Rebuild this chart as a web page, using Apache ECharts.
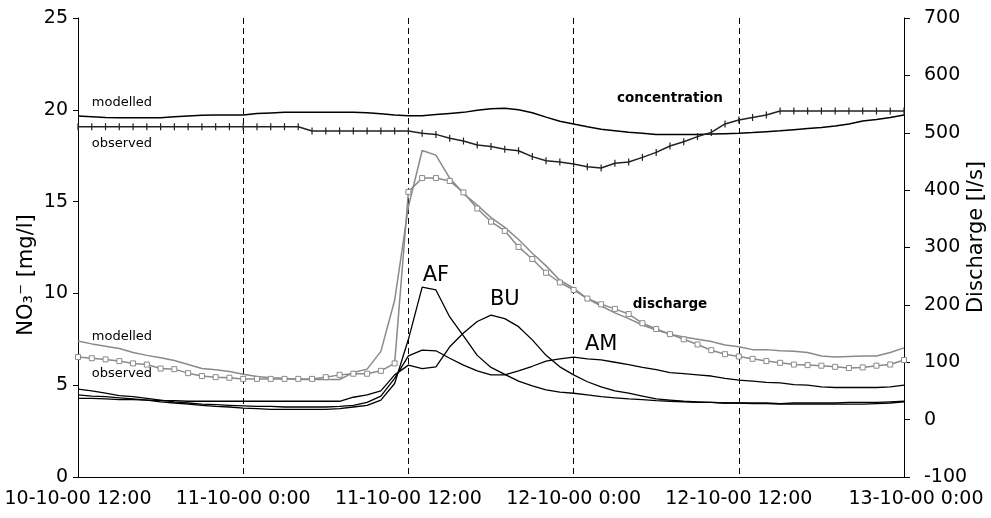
<!DOCTYPE html>
<html>
<head>
<meta charset="utf-8">
<script src="https://cdn.jsdelivr.net/npm/echarts@6/dist/echarts.min.js"></script>
<style>
  html, body { margin: 0; padding: 0; background: #fff; }
  #chart { width: 991px; height: 518px; }
</style>
</head>
<body>
<div id="chart"></div>
<script>
// hourly time steps, 10-10-00 12:00 .. 13-10-00 0:00
var times = [];
for (var i = 0; i <= 60; i++) {
  var day = 10 + Math.floor((12 + i) / 24);
  var hr = (12 + i) % 24;
  times.push(day + '-10-00 ' + hr + ':00');
}

// NO3 concentration [mg/l]
var concObserved = [
  19.08, 19.08, 19.08, 19.08, 19.08, 19.08, 19.08, 19.08, 19.08, 19.08,
  19.08, 19.08, 19.08, 19.08, 19.08, 19.08, 19.08, 18.85, 18.85, 18.85,
  18.85, 18.85, 18.85, 18.85, 18.85, 18.72, 18.66, 18.45, 18.30, 18.08,
  18.00, 17.85, 17.77, 17.45, 17.23, 17.16, 17.05, 16.90, 16.83, 17.09,
  17.16, 17.41, 17.68, 18.03, 18.26, 18.54, 18.77, 19.23, 19.44, 19.58,
  19.72, 19.93, 19.93, 19.93, 19.93, 19.93, 19.93, 19.93, 19.93, 19.93,
  19.93
];
var concModelled = [
  19.66, 19.62, 19.58, 19.57, 19.57, 19.57, 19.57, 19.62, 19.66, 19.70,
  19.72, 19.72, 19.72, 19.80, 19.83, 19.86, 19.86, 19.86, 19.86, 19.86,
  19.86, 19.84, 19.78, 19.72, 19.68, 19.68, 19.74, 19.80, 19.86, 19.98,
  20.06, 20.08, 20.00, 19.84, 19.60, 19.38, 19.23, 19.08, 18.94, 18.86,
  18.78, 18.72, 18.66, 18.66, 18.66, 18.66, 18.68, 18.70, 18.72, 18.76,
  18.81, 18.86, 18.92, 18.98, 19.04, 19.12, 19.23, 19.39, 19.47, 19.58,
  19.72
];

// discharge [l/s]
var qObserved = [
  109, 107, 105, 102, 98, 96, 89, 88, 81, 76,
  74, 73, 71, 71, 71, 71, 71, 71, 74, 78,
  80, 80, 85, 98, 397, 421, 421, 416, 396, 368,
  345, 329, 301, 280, 256, 239, 226, 211, 201, 193,
  184, 168, 158, 149, 140, 131, 121, 114, 110, 106,
  102, 99, 96, 95, 94, 92, 90, 91, 94, 96,
  104
];
var qModelled = [
  137, 132, 128, 124, 117, 112, 108, 103, 96, 89,
  87, 84, 79, 75, 73, 72, 70, 70, 70, 70,
  82, 88, 119, 208, 371, 469, 461, 421, 394, 374,
  352, 335, 314, 290, 268, 243, 229, 211, 198, 186,
  176, 165, 156, 149, 144, 140, 136, 130, 127, 122,
  122, 120, 119, 117, 111, 109, 110, 111, 111, 117,
  125
];
var qAF = [
  43, 41, 40, 38, 36, 34, 31, 29, 27, 25,
  23, 22, 20, 19, 18, 18, 18, 18, 18, 19,
  22, 25, 34, 63, 140, 231, 226, 179, 146, 112,
  91, 79, 67, 59, 52, 48, 46, 43, 40, 38,
  36, 35, 33, 32, 31, 30, 30, 29, 29, 29,
  29, 28, 29, 29, 29, 29, 30, 30, 30, 31,
  32
];
var qBU = [
  37, 37, 36, 35, 35, 34, 33, 33, 32, 32,
  32, 32, 32, 32, 32, 32, 32, 32, 32, 32,
  39, 43, 50, 78, 95, 89, 92, 127, 151, 171,
  182, 176, 162, 139, 112, 92, 78, 66, 57, 50,
  46, 41, 36, 34, 32, 31, 30, 29, 29, 28,
  28, 27, 27, 27, 27, 27, 27, 27, 28, 29,
  31
];
var qAM = [
  53, 50, 46, 42, 40, 37, 34, 31, 29, 27,
  26, 25, 24, 23, 23, 22, 22, 22, 22, 23,
  25, 30, 41, 72, 111, 121, 120, 107, 95, 85,
  78, 78, 85, 93, 102, 106, 109, 106, 104, 100,
  96, 91, 87, 82, 80, 78, 76, 72, 69, 67,
  65, 64, 61, 60, 57, 56, 56, 56, 56, 57,
  60
];

// annotations: [text, hour index, mg/l, align, size, bold]
var notes = [
  ['modelled', 1.16, 20.37, 'left', 13, false],
  ['observed', 1.23, 18.14, 'left', 13, false],
  ['concentration', 42.6, 20.64, 'center', 13.5, true],
  ['discharge', 43.0, 9.37, 'center', 13.5, true],
  ['modelled', 1.31, 7.63, 'left', 13, false],
  ['observed', 0.51, 5.61, 'left', 13, false],
  ['AF', 26.0, 10.95, 'center', 21, false],
  ['BU', 30.72, 9.64, 'center', 21, false],
  ['AM', 38.2, 7.19, 'center', 21, false]
];

var FONT = 'DejaVu Sans';
var chart = echarts.init(document.getElementById('chart'), null, { renderer: 'canvas' });

function line(name, data, axis, color, width) {
  return {
    name: name,
    type: 'line',
    yAxisIndex: axis,
    data: data,
    showSymbol: false,
    symbol: 'none',
    lineStyle: { color: color, width: width },
    silent: true
  };
}

var concObs = line('conc observed', concObserved, 0, '#222', 1.5);
concObs.symbol = 'rect';
concObs.showSymbol = true;
concObs.symbolSize = [1.2, 7];
concObs.itemStyle = { color: '#222' };

var qObs = line('discharge observed', qObserved, 1, '#8a8a8a', 1.5);
qObs.symbol = 'rect';
qObs.showSymbol = true;
qObs.symbolSize = 5;
qObs.itemStyle = { color: '#fff', borderColor: '#8a8a8a', borderWidth: 1 };

var option = {
  animation: false,
  grid: { left: 78, right: 87, top: 18, bottom: 41 },
  xAxis: {
    type: 'category',
    data: times,
    boundaryGap: false,
    axisLine: { lineStyle: { color: '#000', width: 1 } },
    axisTick: { show: false },
    axisLabel: {
      interval: 11,
      color: '#000',
      fontFamily: FONT,
      fontSize: 19,
      margin: 13,
      formatter: function (v, idx) {
        return idx === times.length - 1 ? '{last|' + v + '}' : v;
      },
      rich: {
        last: { fontFamily: FONT, fontSize: 19, color: '#000', padding: [0, 0, 0, 24] }
      }
    },
    splitLine: {
      show: true,
      interval: 11,
      showMinLine: false,
      showMaxLine: false,
      lineStyle: { color: '#000', width: 1, type: [6, 4] }
    }
  },
  yAxis: [
    {
      type: 'value',
      min: 0, max: 25, interval: 5,
      axisLine: { show: true, lineStyle: { color: '#000' } },
      axisTick: { show: true, length: 5, lineStyle: { color: '#000' } },
      axisLabel: { color: '#000', fontFamily: FONT, fontSize: 19, margin: 10 },
      splitLine: { show: false }
    },
    {
      type: 'value',
      position: 'right',
      min: -100, max: 700, interval: 100,
      axisLine: { show: true, lineStyle: { color: '#000' } },
      axisTick: { show: true, length: 6, lineStyle: { color: '#000' } },
      axisLabel: { color: '#000', fontFamily: FONT, fontSize: 19, margin: 20 },
      splitLine: { show: false }
    }
  ],
  series: [
    line('AF', qAF, 1, '#000', 1.3),
    line('BU', qBU, 1, '#000', 1.3),
    line('AM', qAM, 1, '#000', 1.3),
    line('discharge modelled', qModelled, 1, '#8a8a8a', 1.5),
    qObs,
    line('conc modelled', concModelled, 0, '#000', 1.5),
    concObs
  ]
};

chart.setOption(option);

// text labels anchored to data coordinates, axis titles
var elements = notes.map(function (n) {
  var p = chart.convertToPixel({ xAxisIndex: 0, yAxisIndex: 0 }, [n[1], n[2]]);
  return {
    type: 'text',
    x: p[0], y: p[1],
    style: {
      text: n[0],
      align: n[3],
      verticalAlign: 'middle',
      fontFamily: FONT,
      fontSize: n[4],
      fontWeight: n[5] ? 'bold' : 'normal',
      fill: '#000'
    }
  };
});
elements.push({
  type: 'text', x: 27, y: 275, rotation: Math.PI / 2,
  style: { text: 'NO₃⁻ [mg/l]', align: 'center', verticalAlign: 'middle', fontFamily: FONT, fontSize: 21, fill: '#000' }
});
elements.push({
  type: 'text', x: 977, y: 237, rotation: Math.PI / 2,
  style: { text: 'Discharge [l/s]', align: 'center', verticalAlign: 'middle', fontFamily: FONT, fontSize: 21, fill: '#000' }
});
chart.setOption({ graphic: elements });
</script>
</body>
</html>
